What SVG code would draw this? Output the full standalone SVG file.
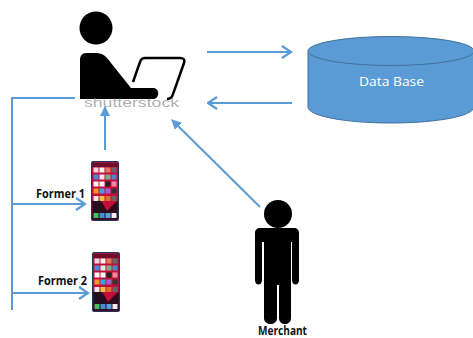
<svg xmlns="http://www.w3.org/2000/svg" width="473" height="338" viewBox="0 0 473 338">
<style>
.c{fill:none;stroke:#5b9bd5;stroke-width:2}
.h{fill:none;stroke:#5b9bd5;stroke-width:2.200}
.l{font-family:"Open Sans","Liberation Sans",Arial,sans-serif;font-size:11.500px;font-weight:bold;fill:#111}
.k{fill:#000}
</style>
<defs>
<filter id="s" x="-5%" y="-5%" width="110%" height="110%"><feGaussianBlur stdDeviation="0.400"/></filter>
<symbol id="phone" viewBox="0 0 28 60" width="28" height="60">
<rect x="0" y="0" width="28" height="60" rx="2" fill="#24365e"/>
<rect x="1.200" y="1.200" width="25.600" height="57.600" rx="1.500" fill="#c4103a"/>
<path d="M1.200 40C8 34 12 42 16 50C20 46 24 41 26.800 40V58.800H1.200Z" fill="#2a0a1c"/>
<path d="M1.200 2H26.800V6H1.200Z" fill="#6e0f2c"/>
<g>
<rect x="2.500" y="6.500" width="5" height="5" fill="#e8d8d8"/><rect x="8.500" y="6.500" width="5" height="5" fill="#f2f2f2"/><rect x="14.500" y="6.500" width="5" height="5" fill="#e07a5a"/><rect x="20.500" y="6.500" width="5" height="5" fill="#666"/>
<rect x="2.500" y="13.500" width="5" height="5" fill="#3f8fd8"/><rect x="8.500" y="13.500" width="5" height="5" fill="#e8e8e8"/><rect x="14.500" y="13.500" width="5" height="5" fill="#7cae8a"/><rect x="20.500" y="13.500" width="5" height="5" fill="#4a8ac0"/>
<rect x="2.500" y="20.500" width="5" height="5" fill="#f4f4f4"/><rect x="8.500" y="20.500" width="5" height="5" fill="#f4f4f4"/><rect x="14.500" y="20.500" width="5" height="5" fill="#222"/><rect x="20.500" y="20.500" width="5" height="5" fill="#f08aa0"/>
<rect x="2.500" y="27.500" width="5" height="5" fill="#f09a20"/><rect x="8.500" y="27.500" width="5" height="5" fill="#3aa0e8"/><rect x="14.500" y="27.500" width="5" height="5" fill="#a060d0"/><rect x="20.500" y="27.500" width="5" height="5" fill="#333"/>
<rect x="2.500" y="35" width="5" height="5" fill="#e8e8e8"/><rect x="8.500" y="35" width="5" height="5" fill="#f0c040"/><rect x="14.500" y="35" width="5" height="5" fill="#d87030"/><rect x="20.500" y="35" width="5" height="5" fill="#666"/>
<rect x="2.500" y="52" width="5" height="5" fill="#40c060"/><rect x="8.500" y="52" width="5" height="5" fill="#3f8fd8"/><rect x="14.500" y="52" width="5" height="5" fill="#5aa0e0"/><rect x="20.500" y="52" width="5" height="5" fill="#eeeeee"/>
</g>
</symbol>
<marker id="a" viewBox="0 0 14 14" refX="12.500" refY="7" markerWidth="14" markerHeight="14" markerUnits="userSpaceOnUse" orient="auto"><path class="h" d="M3.500 1L12.500 7L3.500 13"/></marker>
<marker id="b" viewBox="0 0 10 10" refX="9" refY="5" markerWidth="10" markerHeight="10" markerUnits="userSpaceOnUse" orient="auto"><path d="M0 0L10 5L0 10Z" fill="#5b9bd5"/></marker>
</defs>
<rect width="473" height="338" fill="#fff"/>
<g id="connectors">
<path class="c" d="M75 98H12V310"/>
<path class="c" d="M12 204H85" marker-end="url(#a)"/>
<path class="c" d="M12 293H88" marker-end="url(#a)"/>
<path class="c" d="M105 150V107" marker-end="url(#b)"/>
<path class="c" d="M260 207L172 120" marker-end="url(#b)"/>
<path class="c" d="M207 52H291" marker-end="url(#a)"/>
<path class="c" d="M292 103H208" marker-end="url(#a)"/>
</g>
<g id="user">
<circle class="k" cx="96" cy="28" r="16.500"/>
<path class="k" d="M86 53H96C103 53 107 57 111 63L131 88H153C160 88 160 99 153 99H80V60C80 56 82 53 86 53Z"/>
<path d="M133 82L140 62C141 59 142 58 145 58H180C184 58 185 60 184 63L173 94C172 98 170 99 167 99" fill="none" stroke="#000" stroke-width="2.500"/>
<text x="84" y="107" textLength="95" lengthAdjust="spacingAndGlyphs" font-family="Liberation Sans,sans-serif" font-size="13.500" fill="#8a8a8a" fill-opacity=".7">shutterstock</text>
</g>
<g id="database">
<path d="M308 52V107C308 116 345 123 391 123S474 116 474 107V52Z" fill="#5b9bd5" stroke="#41719c"/>
<ellipse cx="391" cy="51" rx="83" ry="14.500" fill="#5b9bd5" stroke="#41719c"/>
<text x="359" y="86" textLength="65" lengthAdjust="spacingAndGlyphs" font-family="Open Sans,Liberation Sans,sans-serif" font-size="13.500" fill="#fff">Data Base</text>
</g>
<g id="former1">
<use href="#phone" x="91" y="161" filter="url(#s)"/>
<text class="l" x="36" y="198" textLength="49" lengthAdjust="spacingAndGlyphs">Former 1</text>
</g>
<g id="former2">
<use href="#phone" x="92" y="252" filter="url(#s)"/>
<text class="l" x="38" y="285" textLength="49" lengthAdjust="spacingAndGlyphs">Former 2</text>
</g>
<g id="merchant">
<circle class="k" cx="278" cy="214" r="14"/>
<path class="k" d="M260 228H294C297 228 299 230 299 233V280C299 286 292 286 292 280V242H291V318C291 326 279 326 279 318V285H277V318C277 326 264 326 264 318V242H262V280C262 286 255 286 255 280V233C255 230 257 228 260 228Z"/>
<text class="l" x="258" y="335" textLength="49" lengthAdjust="spacingAndGlyphs">Merchant</text>
</g>
</svg>
